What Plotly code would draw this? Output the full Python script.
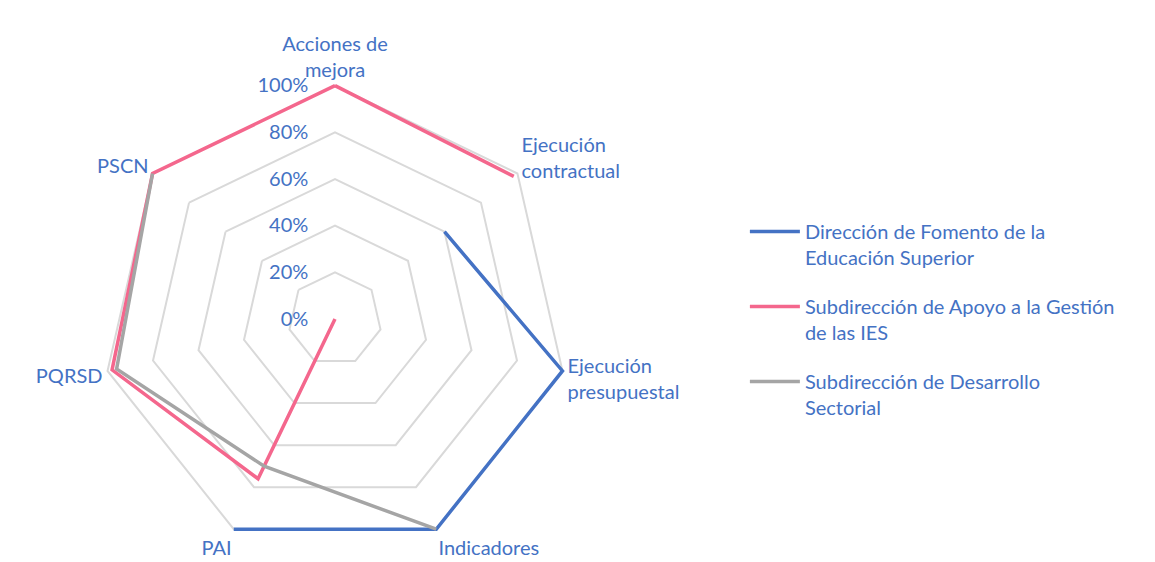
import plotly.graph_objects as go

categories = [
    "Acciones de<br>mejora",
    "Ejecución<br>contractual",
    "Ejecución<br>presupuestal",
    "Indicadores",
    "PAI",
    "PQRSD",
    "PSCN",
]

fomento = [None, 0.60, 1.00, 1.00, 1.00, None, None]
apoyo = [1.00, 0.98, None, 0.00, 0.76, 0.98, 1.00]
desarrollo = [None, None, None, 1.00, 0.70, 0.96, 1.00]

radial_ticks = [0, 0.2, 0.4, 0.6, 0.8, 1.0]

series_names = [
    "Dirección de Fomento de la<br>Educación Superior",
    "Subdirección de Apoyo a la Gestión<br>de las IES",
    "Subdirección de Desarrollo<br>Sectorial",
]
colors = ["#4472C4", "#F4678D", "#A5A5A5"]
text_color = "#4472C4"
font_family = "Lato, 'Open Sans', sans-serif"

W, H = 1155, 562
cx, cy, r = 327, 311, 238

fig = go.Figure()
for i, (name, values, color) in enumerate(zip(series_names, [fomento, apoyo, desarrollo], colors)):
    # close the loop so the last spoke connects back to the first
    fig.add_trace(
        go.Scatterpolar(
            r=values + values[:1],
            theta=categories + categories[:1],
            mode="lines",
            name=name,
            legendgroup=f"g{i}",
            line=dict(color=color, width=3.5),
            connectgaps=False,
        )
    )

# transparent padding pushes the % labels away from the vertical axis
pad = "<span style='color:rgba(0,0,0,0)'>00</span>"
radial_text = [f"{v:.0%}{pad}" for v in radial_ticks]

fig.update_layout(
    width=W,
    height=H,
    margin=dict(l=0, r=0, t=0, b=0),
    paper_bgcolor="white",
    plot_bgcolor="white",
    font=dict(family=font_family, size=20, color=text_color),
    polar=dict(
        domain=dict(
            x=[(cx - r) / W, (cx + r) / W],
            y=[(H - cy - r) / H, (H - cy + r) / H],
        ),
        bgcolor="white",
        gridshape="linear",
        angularaxis=dict(
            direction="clockwise",
            rotation=90,
            showgrid=False,
            showline=False,
            ticks="",
            tickfont=dict(size=20, color=text_color),
        ),
        radialaxis=dict(
            # a little headroom so lines at 100% are not clipped
            range=[0, 1.02],
            tickmode="array",
            tickvals=radial_ticks,
            ticktext=radial_text,
            angle=90,
            tickangle=90,
            showline=False,
            ticks="",
            gridcolor="#D9D9D9",
            gridwidth=1.5,
            side="counterclockwise",
            tickfont=dict(size=20, color=text_color),
        ),
    ),
    legend=dict(
        x=0.638,
        y=0.637,
        xanchor="left",
        yanchor="top",
        valign="top",
        tracegroupgap=20,
        font=dict(size=20, color=text_color),
        itemwidth=50,
    ),
)

fig.write_html("out.html")
